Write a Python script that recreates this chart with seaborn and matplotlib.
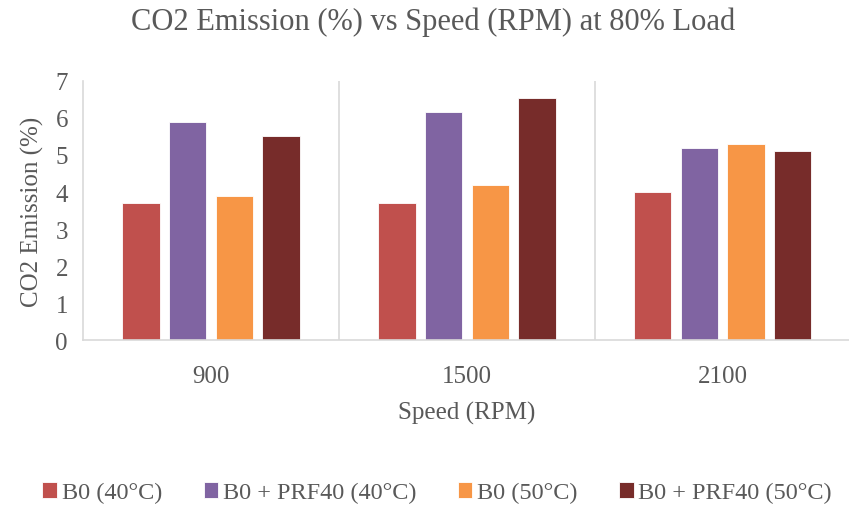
import matplotlib
matplotlib.use("Agg")
import matplotlib.pyplot as plt
import seaborn as sns
import pandas as pd

speeds = ["900", "1500", "2100"]
fuels = ["B0 (40°C)", "B0 + PRF40 (40°C)", "B0 (50°C)", "B0 + PRF40 (50°C)"]
b0_40 = [3.7, 3.7, 4.0]
prf40_40 = [5.9, 6.15, 5.2]
b0_50 = [3.9, 4.2, 5.3]
prf40_50 = [5.5, 6.55, 5.1]
colors = ["#C0504D", "#8064A2", "#F79646", "#772C2A"]

series = [b0_40, prf40_40, b0_50, prf40_50]
df = pd.DataFrame(
    [(s, f, v) for f, vals in zip(fuels, series) for s, v in zip(speeds, vals)],
    columns=["Speed", "Fuel", "CO2"],
)

sns.set_style("white")
plt.rcParams["font.family"] = ["Liberation Serif", "DejaVu Serif"]
text_color = "#595959"
grid_color = "#D9D9D9"

fig = plt.figure(figsize=(8.49, 5.06), dpi=100)
ax = fig.add_axes([0.098, 0.326, 0.904, 0.512])

sns.barplot(
    data=df, x="Speed", y="CO2", hue="Fuel", order=speeds, hue_order=fuels,
    palette=colors, width=0.73, gap=0.2, edgecolor="white", linewidth=0.6,
    saturation=1, ax=ax, legend=True,
)

ax.set_ylim(0, 7)
ax.set_yticks(range(0, 8))
ax.set_xlim(-0.5, 2.5)
for xb in (0.5, 1.5):
    ax.axvline(xb, color=grid_color, lw=1.2, zorder=0)

for side in ("top", "right"):
    ax.spines[side].set_visible(False)
for side in ("left", "bottom"):
    ax.spines[side].set_color(grid_color)
    ax.spines[side].set_linewidth(1.2)

ax.tick_params(axis="x", length=0, labelsize=18, colors=text_color, pad=18)
ax.tick_params(axis="y", length=0, labelsize=18, colors=text_color, pad=11)
ax.set_xlabel("Speed (RPM)", fontsize=18, color=text_color, labelpad=10)
ax.set_ylabel("CO2 Emission (%)", fontsize=18, color=text_color, labelpad=8)

fig.suptitle("CO2 Emission (%) vs Speed (RPM) at 80% Load", fontsize=22,
             color=text_color, x=0.51, y=0.985)

handles, labels = ax.get_legend_handles_labels()
ax.get_legend().remove()
fig.legend(handles, labels, loc="lower center", ncol=4, frameon=False,
           fontsize=17.5, handlelength=0.6, handleheight=0.6, handletextpad=0.2,
           columnspacing=1.7, bbox_to_anchor=(0.515, -0.04), labelcolor=text_color)

fig.savefig("out.png", dpi=100)
